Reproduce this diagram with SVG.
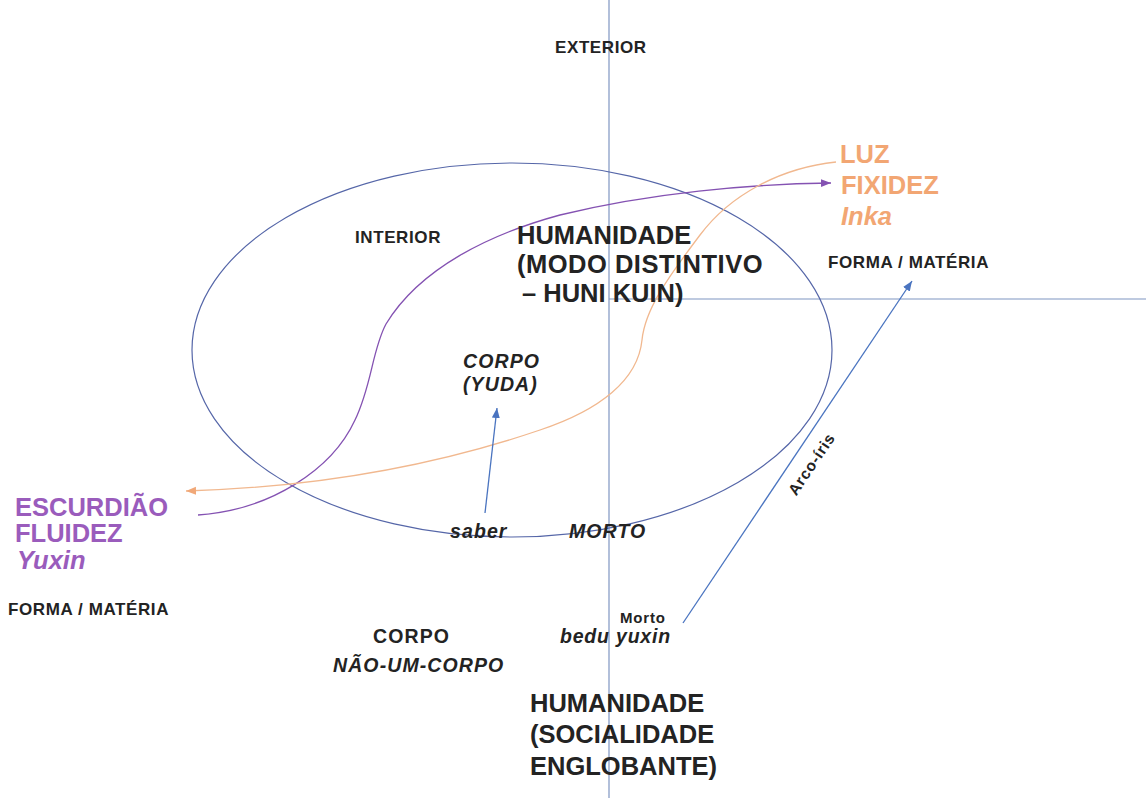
<svg xmlns="http://www.w3.org/2000/svg" width="1146" height="798" viewBox="0 0 1146 798">
<defs>
<style>
text{font-family:"Liberation Sans",Arial,sans-serif;font-weight:bold;fill:#232323}
.s{font-size:17px;letter-spacing:0.6px}
.big{font-size:25.5px}
.it{font-style:italic}
.m{font-size:19.5px;letter-spacing:1.1px}
.pur{fill:#9a5cbc}
.ora{fill:#f2a673}
.ax{stroke:#7f95c2;stroke-width:1.2;fill:none}
.ell{stroke:#5566a8;stroke-width:1.2;fill:none}
.cp{stroke:#8452b2;stroke-width:1.3;fill:none}
.co{stroke:#f1b88f;stroke-width:1.3;fill:none}
.cb{stroke:#4a74c0;stroke-width:1.3;fill:none}
</style>
<marker id="ab" markerUnits="userSpaceOnUse" markerWidth="12" markerHeight="12" viewBox="0 0 12 12" refX="10" refY="6" orient="auto"><path d="M0,2 L10,6 L0,10 Z" fill="#4a74c0"/></marker>
<marker id="ap" markerUnits="userSpaceOnUse" markerWidth="12" markerHeight="12" viewBox="0 0 12 12" refX="10" refY="6" orient="auto"><path d="M0,2 L10,6 L0,10 Z" fill="#8452b2"/></marker>
<marker id="ao" markerUnits="userSpaceOnUse" markerWidth="12" markerHeight="12" viewBox="0 0 12 12" refX="10" refY="6" orient="auto"><path d="M0,2 L10,6 L0,10 Z" fill="#f1a878"/></marker>
</defs>
<rect width="1146" height="798" fill="#ffffff"/>
<g id="connectors">
<line class="ax" x1="609" y1="0" x2="609" y2="798"/>
<line class="ax" x1="609" y1="299" x2="1146" y2="299"/>
<ellipse class="ell" cx="512" cy="350" rx="320" ry="187"/>
<path class="cp" marker-end="url(#ap)" d="M198,515 C270,510 332,470 355,420 C372,385 372,350 386,324 C420,268 490,234 560,215 C650,193 750,184 831,183"/>
<path class="co" marker-end="url(#ao)" d="M836,162 C780,168 730,195 700,235 C666,280 645,310 642,340 C638,380 600,410 540,430 C440,464 320,487 186,491"/>
<line class="cb" marker-end="url(#ab)" x1="485" y1="513" x2="497" y2="408"/>
<line class="cb" marker-end="url(#ab)" x1="683" y1="623" x2="912" y2="281"/>
</g>
<g id="n-exterior"><text class="s" x="555" y="53">EXTERIOR</text></g>
<g id="n-interior"><text class="s" x="355" y="243">INTERIOR</text></g>
<g id="n-luz"><text class="big ora" x="840" y="163">LUZ</text><text class="big ora" x="841" y="194">FIXIDEZ</text><text class="big ora it" x="841" y="225">Inka</text></g>
<g id="n-human1"><text class="big" x="517" y="244">HUMANIDADE</text><text class="big" x="517" y="273" style="letter-spacing:0.5px">(MODO DISTINTIVO</text><text class="big" x="522" y="302">– HUNI KUIN)</text></g>
<g id="n-forma-r"><text class="s" x="828" y="268">FORMA / MATÉRIA</text></g>
<g id="n-corpo-yuda"><text class="m it" x="463" y="368">CORPO</text><text class="m it" x="463" y="391">(YUDA)</text></g>
<g id="n-escurdiao"><text class="big pur" x="15" y="516">ESCURDIÃO</text><text class="big pur" x="15" y="542">FLUIDEZ</text><text class="big pur it" x="17" y="569">Yuxin</text></g>
<g id="n-forma-l"><text class="s" x="8" y="615">FORMA / MATÉRIA</text></g>
<g id="n-saber"><text class="m it" x="450" y="538">saber</text></g>
<g id="n-morto"><text class="m it" x="569" y="538">MORTO</text></g>
<g id="n-arco"><text x="816" y="467" text-anchor="middle" transform="rotate(-56 816 467)" style="font-size:15.5px;letter-spacing:0.8px">Arco-íris</text></g>
<g id="n-bedu"><text x="620" y="623" style="font-size:15px;letter-spacing:0.8px">Morto</text><text class="it" x="560" y="643" style="font-size:19.5px;letter-spacing:0.8px">bedu yuxin</text></g>
<g id="n-corpo2"><text class="m" x="373" y="643">CORPO</text><text class="m it" x="333" y="672">NÃO-UM-CORPO</text></g>
<g id="n-human2"><text class="big" x="530" y="712">HUMANIDADE</text><text class="big" x="530" y="743">(SOCIALIDADE</text><text class="big" x="530" y="775">ENGLOBANTE)</text></g>
</svg>
